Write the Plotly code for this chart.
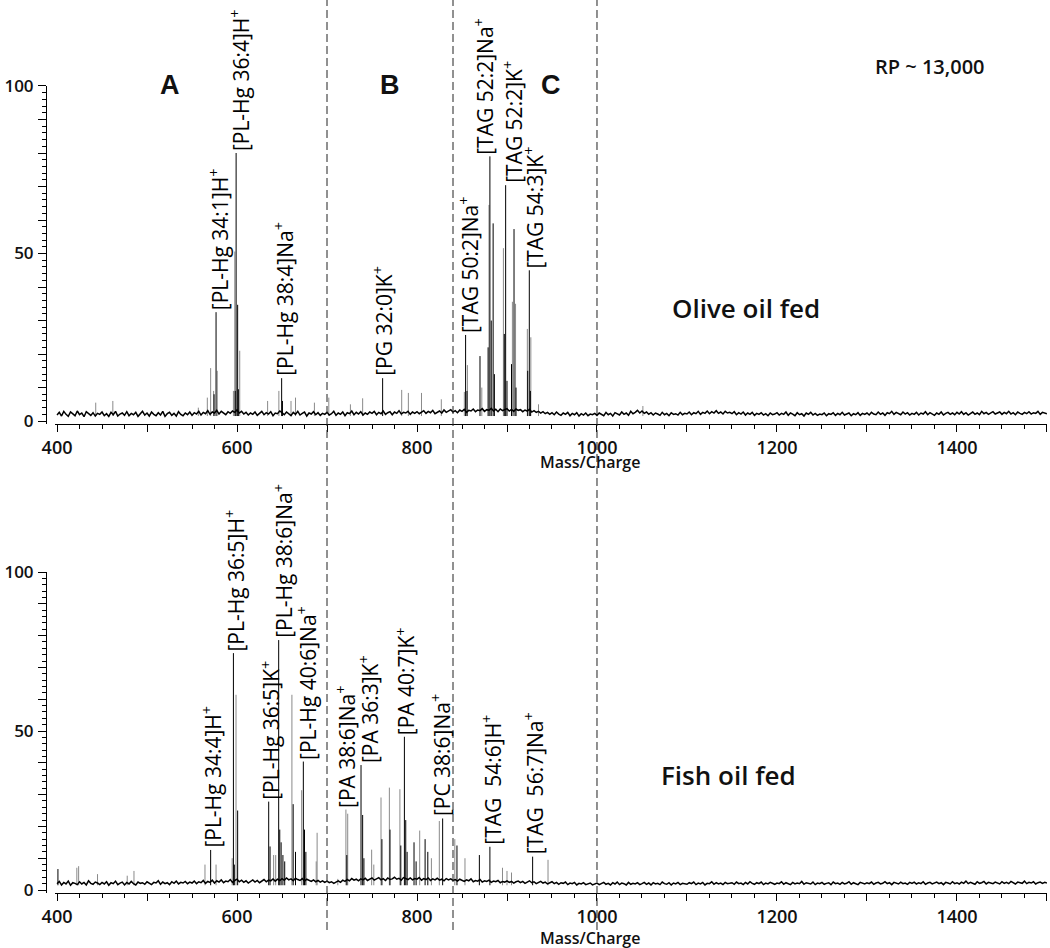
import numpy as np
import plotly.graph_objects as go

# m/z grid for the baseline noise trace (2.5 m/z spacing, 400..1500)
NOISE_MZ = list(np.arange(400, 1500.1, 2.5))

OLIVE_NOISE = [
    1.8, 2.6, 1.5, 2.9, 2.0, 1.4, 2.7, 2.2, 1.6, 3.0, 1.9, 2.4, 1.3, 2.8, 2.1, 1.7, 2.5, 1.5, 2.3, 2.0,
    2.7, 1.6, 2.2, 1.4, 2.6, 1.9, 2.9, 1.5, 2.1, 2.4, 1.7, 2.8, 1.6, 2.3, 1.9, 2.6, 1.4, 2.2, 2.9, 1.8,
    2.4, 1.5, 2.7, 2.0, 1.6, 2.5, 1.8, 2.9, 1.4, 2.2, 2.6, 1.7, 2.3, 1.5, 2.8, 2.0, 1.6, 2.4, 1.9, 2.7,
    1.7, 2.5, 2.1, 2.9, 1.8, 2.6, 2.2, 3.1, 2.0, 2.7, 2.4, 3.2, 2.1, 2.9, 2.5, 1.9, 2.8, 2.3, 3.0, 2.6,
    3.3, 2.4, 2.9, 2.1, 2.6, 1.8, 2.4, 2.0, 2.7, 1.7, 2.3, 2.9, 1.9, 2.5, 2.1, 2.8, 1.6, 2.4, 2.2, 3.0,
    2.5, 1.9, 2.7, 2.2, 1.6, 2.6, 2.0, 2.9, 1.8, 2.3, 2.7, 1.5, 2.4, 2.1, 2.8, 1.9, 2.5, 1.7, 2.3, 2.0,
    2.6, 1.8, 2.2, 2.9, 1.7, 2.4, 2.0, 2.7, 1.6, 2.5, 2.2, 3.0, 1.9, 2.6, 2.1, 2.8, 1.8, 2.4, 2.0, 2.7,
    2.3, 2.9, 1.9, 2.6, 2.2, 3.0, 2.0, 2.5, 2.8, 1.9, 2.7, 2.3, 3.1, 2.1, 2.6, 2.4, 2.9, 2.0, 2.7, 2.3,
    2.8, 2.2, 2.6, 3.1, 2.3, 2.9, 2.5, 3.2, 2.2, 2.7, 3.0, 2.4, 3.3, 2.6, 2.9, 3.4, 2.7, 3.1, 2.5, 3.3,
    2.9, 3.5, 2.6, 3.2, 3.0, 3.6, 2.8, 3.3, 3.1, 3.7, 2.9, 3.4, 3.2, 3.8, 3.0, 3.5, 2.8, 3.6, 3.1, 3.4,
    3.7, 3.0, 3.5, 2.9, 3.6, 3.2, 3.4, 2.8, 3.3, 3.0, 3.5, 2.7, 3.1, 2.6, 2.9, 2.4, 2.8, 2.2, 2.6, 2.0,
    2.5, 1.9, 2.7, 2.1, 1.7, 2.4, 2.0, 2.6, 1.6, 2.3, 1.9, 2.5, 1.5, 2.2, 1.8, 2.4, 1.6, 2.1, 1.9, 2.3,
    1.7, 2.4, 2.0, 1.6, 2.6, 1.9, 2.3, 1.5, 2.5, 2.1, 1.8, 2.7, 2.0, 2.4, 1.7, 2.9, 2.2, 2.6, 3.2, 2.4,
    3.0, 2.3, 2.7, 2.0, 2.5, 1.8, 2.4, 2.1, 1.7, 2.6, 1.9, 2.3, 1.6, 2.5, 2.0, 2.2, 1.8, 2.6, 1.9, 2.3,
    2.1, 2.7, 1.9, 2.5, 2.2, 2.9, 2.0, 2.6, 2.3, 3.0, 2.2, 2.8, 2.4, 3.1, 2.3, 2.7, 2.1, 2.9, 2.4, 2.6,
    2.2, 2.8, 1.9, 2.5, 2.1, 2.7, 1.8, 2.4, 2.0, 2.6, 1.7, 2.3, 2.0, 2.5, 1.8, 2.2, 1.6, 2.4, 1.9, 2.1,
    2.5, 1.8, 2.3, 2.0, 2.7, 1.7, 2.4, 2.1, 1.6, 2.5, 1.9, 2.2, 1.5, 2.4, 2.0, 2.6, 1.8, 2.3, 1.7, 2.1,
    1.9, 2.4, 1.6, 2.2, 2.0, 2.5, 1.7, 2.3, 1.9, 2.6, 1.8, 2.1, 2.4, 1.6, 2.2, 1.9, 2.5, 1.7, 2.3, 2.0,
    2.4, 1.8, 2.6, 2.1, 1.9, 2.7, 2.0, 2.4, 1.7, 2.5, 2.2, 2.9, 2.0, 2.6, 2.3, 1.9, 2.7, 2.1, 2.5, 1.8,
    2.3, 2.0, 2.6, 1.8, 2.4, 2.1, 2.8, 1.9, 2.5, 2.2, 1.7, 2.4, 2.0, 2.7, 1.8, 2.3, 2.6, 2.0, 2.4, 1.9,
    2.6, 2.1, 2.8, 2.0, 2.5, 1.8, 2.3, 2.7, 2.0, 2.4, 1.9, 2.9, 2.2, 2.6, 2.0, 2.5, 2.8, 2.1, 2.4, 2.7,
    2.0, 2.6, 2.2, 2.9, 2.1, 2.5, 1.9, 2.7, 2.3, 2.0, 2.6, 2.2, 2.8, 2.1, 2.5, 2.3, 2.9, 2.0, 2.6, 2.4,
    2.2,
]

FISH_NOISE = [
    2.0, 2.7, 1.6, 2.4, 1.9, 2.8, 1.5, 2.3, 2.1, 1.7, 2.6, 1.9, 2.4, 1.6, 2.9, 2.1, 1.8, 2.5, 2.2, 1.7,
    2.4, 1.9, 2.6, 1.5, 2.3, 2.0, 2.8, 1.7, 2.2, 2.5, 1.6, 2.4, 1.9, 2.7, 2.0, 1.6, 2.5, 2.1, 2.3, 1.8,
    2.6, 2.0, 1.7, 2.4, 2.2, 2.9, 1.8, 2.5, 2.0, 2.3, 1.7, 2.6, 2.1, 2.8, 1.9, 2.4, 2.2, 2.7, 2.0, 2.5,
    2.2, 2.8, 2.0, 2.6, 2.3, 3.0, 2.1, 2.7, 2.4, 3.1, 2.2, 2.9, 2.5, 3.2, 2.3, 2.8, 2.6, 3.3, 2.4, 3.0,
    3.4, 2.6, 3.1, 2.4, 2.9, 2.2, 2.7, 3.2, 2.5, 3.0, 2.3, 2.8, 3.3, 2.6, 3.1, 2.9, 3.5, 2.8, 3.4, 3.0,
    3.6, 3.1, 3.8, 3.2, 3.5, 2.9, 3.7, 3.3, 3.0, 3.6, 2.8, 3.4, 3.1, 2.7, 3.2, 2.6, 3.0, 2.5, 2.9, 2.4,
    2.8, 2.3, 2.6, 2.1, 2.5, 2.9, 2.4, 3.1, 2.7, 3.3, 2.9, 3.6, 3.1, 3.4, 2.9, 3.5, 3.2, 3.7, 3.0, 3.4,
    3.8, 3.1, 3.5, 3.9, 3.2, 3.6, 3.0, 3.8, 3.3, 3.5, 4.0, 3.4, 3.7, 3.1, 3.9, 3.5, 3.3, 3.8, 3.2, 3.6,
    3.4, 3.9, 3.1, 3.6, 3.3, 3.8, 3.0, 3.5, 3.2, 3.7, 3.1, 3.4, 2.9, 3.6, 3.2, 3.5, 3.0, 3.3, 2.8, 3.4,
    3.1, 2.7, 3.2, 2.9, 3.5, 2.6, 3.0, 2.8, 3.3, 2.5, 2.9, 2.7, 3.1, 2.4, 2.8, 2.6, 3.0, 2.3, 2.7, 2.5,
    2.9, 2.4, 2.7, 2.2, 2.6, 2.8, 2.3, 2.7, 2.1, 2.5, 2.9, 2.3, 2.6, 2.0, 2.4, 2.7, 2.2, 2.5, 1.9, 2.3,
    2.6, 2.0, 2.4, 1.8, 2.3, 2.1, 2.5, 1.7, 2.2, 2.0, 2.4, 1.6, 2.1, 1.9, 2.3, 1.7, 2.0, 2.2, 1.6, 1.9,
    2.2, 1.7, 2.0, 2.4, 1.8, 2.1, 1.6, 2.3, 1.9, 2.5, 1.7, 2.2, 2.0, 1.6, 2.4, 1.8, 2.1, 1.9, 2.3, 1.7,
    2.0, 2.4, 1.8, 2.2, 1.6, 2.3, 1.9, 2.1, 1.7, 2.5, 2.0, 1.8, 2.3, 1.6, 2.2, 1.9, 2.4, 1.7, 2.1, 2.0,
    1.8, 2.3, 2.0, 2.5, 1.7, 2.2, 1.9, 2.4, 1.6, 2.1, 2.0, 2.6, 1.8, 2.3, 1.9, 2.2, 1.7, 2.4, 2.0, 2.1,
    2.3, 1.8, 2.5, 2.0, 2.2, 1.7, 2.4, 1.9, 2.6, 2.1, 1.8, 2.3, 2.0, 2.5, 1.7, 2.2, 1.9, 2.4, 2.1, 1.8,
    2.2, 2.0, 2.6, 1.8, 2.3, 2.1, 1.7, 2.4, 1.9, 2.2, 2.0, 2.7, 1.8, 2.3, 2.1, 1.9, 2.5, 1.7, 2.2, 2.0,
    2.4, 1.8, 2.1, 2.3, 1.7, 2.5, 2.0, 2.2, 1.8, 2.4, 1.9, 2.1, 2.6, 1.8, 2.3, 2.0, 1.7, 2.4, 2.1, 1.9,
    2.3, 2.0, 2.5, 1.8, 2.2, 2.4, 1.9, 2.1, 2.6, 2.0, 2.3, 1.7, 2.4, 2.1, 1.9, 2.5, 2.0, 2.2, 1.8, 2.4,
    2.1, 2.5, 1.9, 2.3, 2.0, 2.6, 1.8, 2.2, 2.4, 1.9, 2.1, 2.5, 2.0, 2.3, 1.7, 2.4, 2.2, 1.9, 2.6, 2.0,
    2.3, 1.9, 2.5, 2.1, 2.8, 2.0, 2.4, 2.2, 1.8, 2.6, 2.1, 2.3, 2.7, 1.9, 2.4, 2.2, 2.0, 2.5, 2.3, 1.9,
    2.6, 2.1, 2.4, 2.0, 2.7, 2.2, 1.9, 2.5, 2.3, 2.1, 2.8, 2.0, 2.4, 2.2, 2.6, 1.9, 2.3, 2.5, 2.1, 2.4,
    2.2,
]

# stick peaks, olive oil fed (black and grey sticks)
OLIVE_BLACK_MZ = [576.7, 599.0, 600.7, 598.0, 601.5, 649.6, 761.8, 854.0, 870.0, 879.0, 881.0, 882.5,
                  884.6, 897.0, 898.5, 905.0, 907.8, 923.0, 924.8, 574.5, 855.5, 886.0, 900.0,
                  910.0, 926.0, 650.5]
OLIVE_BLACK_I = [32.5, 80.0, 34.7, 9.0, 9.5, 12.8, 12.8, 25.7, 19.4, 22.0, 79.0, 30.0,
                 59.0, 26.0, 70.4, 17.0, 57.3, 15.0, 45.0, 8.0, 9.0, 14.0, 12.0,
                 10.0, 9.0, 6.0]
OLIVE_GREY_MZ = [443, 462, 557, 567, 570.7, 574, 578, 596, 597.5, 603, 634, 646.5, 660, 665, 686, 702,
                 726, 739.6, 783, 790.4, 805, 827, 852.6, 856, 872, 880, 896, 906, 909.5, 922.6, 926.5,
                 935, 1051]
OLIVE_GREY_I = [5.5, 6.0, 4.0, 7.0, 15.8, 9.0, 15.0, 9.0, 50.6, 21.0, 6.0, 9.0, 6.0, 7.0, 5.5, 7.0,
                5.0, 6.8, 9.3, 8.4, 8.4, 6.5, 8.7, 16.7, 10.0, 64.5, 51.6, 35.6, 35.0, 27.5, 25.0,
                5.0, 4.5]

# stick peaks, fish oil fed
FISH_BLACK_MZ = [401, 570.7, 596.0, 597.0, 600.7, 635.2, 636.7, 646.3, 647.5, 649.0, 662.4, 665.0,
                 673.7, 675.0, 722.0, 737.8, 739.6, 761.0, 770.0, 782.0, 786.0, 787.5, 796.7, 809.0,
                 812.0, 828.5, 844.4, 869.3, 881.0, 928.5, 651.0, 653.0, 676.5, 741.0, 789.0, 799.0]
FISH_BLACK_I = [6.6, 12.6, 74.5, 8.0, 25.0, 27.8, 13.7, 78.6, 19.0, 15.0, 27.0, 12.0,
                40.4, 19.0, 11.0, 39.3, 23.6, 16.0, 19.0, 14.0, 48.2, 22.0, 15.0, 16.0,
                12.0, 22.5, 14.0, 11.0, 13.6, 10.5, 11.0, 9.0, 12.0, 10.0, 12.0, 9.0]
FISH_GREY_MZ = [422, 424, 445, 478, 485.5, 564.4, 576.7, 594.6, 598.9, 640.7, 643.0, 661.0, 671.8,
                688.0, 689.0, 712.0, 721.0, 723.0, 749.6, 752.0, 760.0, 769.3, 781.0, 803.0, 816.0,
                824.8, 842.0, 853.3, 895.0, 900.0, 905.0, 945.6]
FISH_GREY_I = [7.0, 7.5, 5.0, 4.5, 6.0, 8.0, 8.0, 10.0, 61.4, 11.0, 11.0, 61.4, 31.4,
               9.0, 18.0, 3.5, 25.3, 24.0, 12.7, 8.0, 29.1, 32.2, 31.7, 18.7, 10.0,
               21.7, 16.0, 10.0, 7.0, 6.0, 5.5, 9.5]

# labelled peaks
OLIVE_LABEL_MZ = [576.7, 599.0, 649.6, 761.8, 854.0, 881.0, 898.5, 924.8]
OLIVE_LABEL_I = [32.5, 80.0, 12.8, 12.8, 25.7, 79.0, 70.4, 45.0]
OLIVE_LABELS = [
    "[PL-Hg 34:1]H<sup>+</sup>", "[PL-Hg 36:4]H<sup>+</sup>", "[PL-Hg 38:4]Na<sup>+</sup>",
    "[PG 32:0]K<sup>+</sup>", "[TAG 50:2]Na<sup>+</sup>", "[TAG 52:2]Na<sup>+</sup>",
    "[TAG 52:2]K<sup>+</sup>", "[TAG 54:3]K<sup>+</sup>",
]
OLIVE_LABEL_SHIFT = [2, 3, 2, 0, 3, -6, 7, 4]

FISH_LABEL_MZ = [570.7, 596.0, 635.2, 646.3, 673.7, 721.0, 737.8, 786.0, 828.5, 881.0, 928.5]
FISH_LABEL_I = [12.6, 74.5, 27.8, 78.6, 40.4, 25.3, 39.3, 48.2, 22.5, 13.6, 10.5]
FISH_LABELS = [
    "[PL-Hg 34:4]H<sup>+</sup>", "[PL-Hg 36:5]H<sup>+</sup>", "[PL-Hg 36:5]K<sup>+</sup>",
    "[PL-Hg 38:6]Na<sup>+</sup>", "[PL-Hg 40:6]Na<sup>+</sup>", "[PA 38:6]Na<sup>+</sup>",
    "[PA 36:3]K<sup>+</sup>", "[PA 40:7]K<sup>+</sup>", "[PC 38:6]Na<sup>+</sup>",
    "[TAG&nbsp; 54:6]H<sup>+</sup>", "[TAG&nbsp; 56:7]Na<sup>+</sup>",
]
FISH_LABEL_SHIFT = [1, 1, 1, 4, 3, -1, 7, 1, -2, 2, 1]

REGION_EDGES = [700, 840, 1000]
X_TICKS = [400, 500, 600, 700, 800, 900, 1000, 1100, 1200, 1300, 1400, 1500]
X_TICK_TEXT = ["400", "", "600", "", "800", "", "1000", "", "1200", "", "1400", ""]
Y_TICKS = [0, 10, 20, 30, 40, 50, 60, 70, 80, 90, 100]
Y_TICK_TEXT = ["0", "", "", "", "", "50", "", "", "", "", "100"]

FONT = "Open Sans"
BASE = 1.5


def sticks(mz, inten):
    xs, ys = [], []
    for m, i in zip(mz, inten):
        xs += [m, m, None]
        ys += [BASE, i, None]
    return xs, ys


fig = go.Figure()

panels = [
    ("x", "y", OLIVE_NOISE, OLIVE_BLACK_MZ, OLIVE_BLACK_I, OLIVE_GREY_MZ, OLIVE_GREY_I),
    ("x2", "y2", FISH_NOISE, FISH_BLACK_MZ, FISH_BLACK_I, FISH_GREY_MZ, FISH_GREY_I),
]
for xa, ya, noise, bmz, bi, gmz, gi in panels:
    gx, gy = sticks(gmz, gi)
    fig.add_trace(go.Scatter(x=gx, y=gy, mode="lines", xaxis=xa, yaxis=ya,
                             line=dict(color="#8a8a8a", width=1), hoverinfo="skip"))
    bx, by = sticks(bmz, bi)
    fig.add_trace(go.Scatter(x=bx, y=by, mode="lines", xaxis=xa, yaxis=ya,
                             line=dict(color="#000000", width=1), hoverinfo="skip"))
    fig.add_trace(go.Scatter(x=NOISE_MZ, y=noise, mode="lines", xaxis=xa, yaxis=ya,
                             line=dict(color="#000000", width=1.5), hoverinfo="skip"))

# peak labels, rotated, sitting on top of their peak
for xa, ya, mzs, ints, labels, shifts in [
    ("x", "y", OLIVE_LABEL_MZ, OLIVE_LABEL_I, OLIVE_LABELS, OLIVE_LABEL_SHIFT),
    ("x2", "y2", FISH_LABEL_MZ, FISH_LABEL_I, FISH_LABELS, FISH_LABEL_SHIFT),
]:
    for m, i, t, s in zip(mzs, ints, labels, shifts):
        fig.add_annotation(x=m, y=i, xref=xa, yref=ya, text=t, textangle=-90,
                           showarrow=False, xanchor="center", yanchor="bottom", xshift=s,
                           font=dict(family=FONT, size=21, color="#000", weight=500))

# region dividers running through both panels
for edge in REGION_EDGES:
    fig.add_shape(type="line", xref="x", yref="paper", x0=edge, x1=edge, y0=0.019, y1=1.0,
                  line=dict(color="#222", width=1, dash="8px,4px"))


def px2paper(px, py):
    return px / 1050, 1 - py / 948


texts = [
    ("A", 170, 85, 27, "Liberation Sans", 700),
    ("B", 390, 85, 27, "Liberation Sans", 700),
    ("C", 551, 85, 27, "Liberation Sans", 700),
    ("RP ~ 13,000", 930, 67, 20, FONT, 600),
    ("Olive oil fed", 746, 308, 26, FONT, 600),
    ("Fish oil fed", 728, 775, 26, FONT, 600),
    ("Mass/Charge", 590, 462, 16, FONT, 600),
    ("Mass/Charge", 590, 938, 16, FONT, 600),
]
for t, px, py, size, fam, weight in texts:
    xp, yp = px2paper(px, py)
    fig.add_annotation(x=xp, y=yp, xref="paper", yref="paper", text=t, showarrow=False,
                       xanchor="center", yanchor="middle",
                       font=dict(family=fam, size=size, color="#111", weight=weight))

xaxis_common = dict(
    range=[398, 1500], domain=[0.0526, 0.9971], showline=True, linecolor="#000", linewidth=1,
    tickmode="array", tickvals=X_TICKS, ticktext=X_TICK_TEXT, ticks="outside", ticklen=7,
    tickcolor="#000", showgrid=False, zeroline=False, automargin=False,
    minor=dict(dtick=25, tick0=400, ticks="outside", ticklen=4, tickcolor="#000", showgrid=False),
    tickfont=dict(family=FONT, size=18, color="#111", weight=600),
)
yaxis_common = dict(
    range=[-1, 100], showline=True, linecolor="#000", linewidth=1, anchor="free",
    position=0.0438, tickmode="array", tickvals=Y_TICKS, ticktext=Y_TICK_TEXT,
    ticks="outside", ticklen=8, tickcolor="#000", showgrid=False, zeroline=False,
    automargin=False, ticklabelstandoff=1,
    minor=dict(dtick=2, tick0=0, ticks="outside", ticklen=4, tickcolor="#000", showgrid=False),
    tickfont=dict(family=FONT, size=17, color="#111", weight=600),
)

fig.update_layout(
    width=1050, height=948, showlegend=False,
    paper_bgcolor="white", plot_bgcolor="white",
    margin=dict(l=0, r=0, t=0, b=0),
    xaxis=dict(xaxis_common, anchor="y"),
    yaxis=dict(yaxis_common, domain=[0.5523, 0.9093]),
    xaxis2=dict(xaxis_common, anchor="y2"),
    yaxis2=dict(yaxis_common, domain=[0.0578, 0.3966]),
)

# the page's default body margin would push the figure 8px down and right
fig.write_html("out.html", config={"displayModeBar": False},
               post_script="document.body.style.margin = '0px';")
